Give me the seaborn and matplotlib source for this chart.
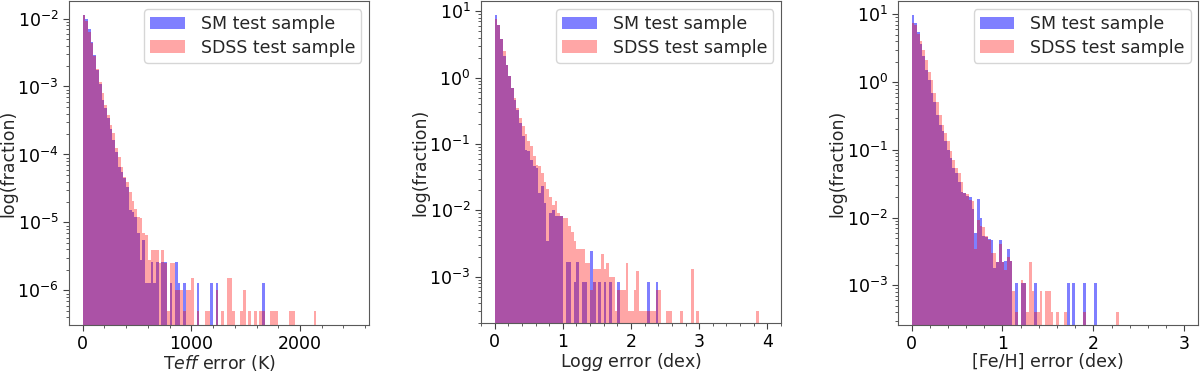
import numpy as np
import pandas as pd
import matplotlib
matplotlib.use("Agg")
import matplotlib.pyplot as plt
import seaborn as sns
from matplotlib.patches import Patch

# histogram range per panel (100 bins each)
n_bins = 100
teff_range = (0, 2500)
logg_range = (0, 4)
feh_range = (0, 3)

# normalised histogram heights, one value per bin
teff_sm = [1.12e-2, 1.0e-2, 6.9e-3, 4.5e-3, 2.9e-3, 1.74e-3, 1.1e-3, 6.3e-4, 4.8e-4, 3.4e-4,
           2.4e-4, 1.62e-4, 1.1e-4, 6.6e-5, 5.6e-5, 4.5e-5, 3.3e-5, 1.5e-5, 1.44e-5, 1.2e-5,
           6.9e-6, 2.8e-6, 5.5e-6, 1.3e-6, 1.3e-6, 2.6e-6, 1.3e-6, 2.6e-6, 0, 2.6e-6,
           2.6e-6, 0, 1.3e-6, 0, 2.6e-6, 1.3e-6, 0, 1.3e-6, 0, 0,
           0, 0, 1.3e-6, 0, 0, 0, 0, 1.3e-6, 0, 1.3e-6,
           0, 0, 0, 0, 0, 0, 0, 0, 0, 0,
           0, 0, 0, 0, 0, 0, 1.3e-6]
teff_sdss = [1.12e-2, 9.3e-3, 6.3e-3, 4.4e-3, 2.8e-3, 1.78e-3, 1.17e-3, 8.1e-4, 5.4e-4, 3.8e-4,
             2.7e-4, 2.04e-4, 1.23e-4, 9.3e-5, 6.6e-5, 4.7e-5, 4.0e-5, 2.8e-5, 2.1e-5, 1.6e-5,
             1.2e-5, 1.15e-5, 6.9e-6, 6.5e-6, 2.8e-6, 3.9e-6, 3.9e-6, 3.9e-6, 2.5e-6, 3.9e-6,
             2.5e-6, 4.9e-7, 2.5e-6, 2.5e-6, 1.0e-6, 1.0e-6, 1.0e-6, 4.9e-7, 1.0e-6, 1.0e-6,
             1.5e-6, 0, 4.9e-7, 0, 0, 4.9e-7, 4.9e-7, 0, 0, 1.0e-6,
             0, 4.9e-7, 0, 1.5e-6, 1.5e-6, 4.9e-7, 0, 0, 4.9e-7, 1.0e-6,
             0, 4.9e-7, 0, 4.9e-7, 0, 4.9e-7, 4.9e-7, 0, 0, 4.9e-7,
             4.9e-7, 4.9e-7, 0, 0, 0, 0, 4.9e-7, 4.9e-7, 0, 0,
             0, 0, 0, 0, 0, 4.9e-7]

logg_sm = [8.9, 6.3, 3.8, 2.1, 1.57, 1.05, 0.70, 0.46, 0.33, 0.21,
           0.13, 0.081, 0.078, 0.058, 0.046, 0.044, 0.018, 0.023, 0.013, 0.0034,
           0.0091, 0.010, 0.0081, 0.0081, 0.0081, 0, 1.64e-3, 1.64e-3, 0, 8.2e-4,
           1.64e-3, 0, 8.2e-4, 8.2e-4, 0, 2.46e-3, 8.2e-4, 0, 8.2e-4, 0,
           8.2e-4, 0, 8.2e-4, 0, 0, 8.2e-4, 0, 0, 0, 0,
           0, 0, 0, 0, 0, 0, 8.2e-4, 0, 0, 8.2e-4]
logg_sdss = [7.7, 6.3, 3.8, 2.5, 1.57, 1.05, 0.70, 0.49, 0.35, 0.25,
             0.186, 0.14, 0.11, 0.093, 0.065, 0.049, 0.046, 0.037, 0.027, 0.021,
             0.016, 0.012, 0.014, 0.0091, 0.0081, 0.0077, 0.0077, 0.0058, 0.0047, 0.0035,
             0.0026, 0.0026, 0.0026, 0.0016, 0.0016, 6.4e-4, 1.3e-3, 1.3e-3, 1.3e-3, 2.2e-3,
             1.3e-3, 1.6e-3, 1.0e-3, 1.0e-3, 3.1e-4, 6.4e-4, 6.4e-4, 6.4e-4, 1.6e-3, 3.1e-4,
             3.1e-4, 6.4e-4, 1.2e-3, 3.1e-4, 3.1e-4, 3.1e-4, 3.1e-4, 3.1e-4, 3.1e-4, 6.4e-4,
             6.4e-4, 0, 0, 3.1e-4, 3.1e-4, 0, 0, 0, 3.1e-4, 0,
             0, 0, 1.3e-3, 0, 3.1e-4, 0, 0, 0, 0, 0,
             0, 0, 0, 0, 0, 0, 0, 0, 0, 0,
             0, 0, 0, 0, 0, 0, 3.1e-4]

feh_sm = [9.7, 7.5, 5.5, 3.7, 2.4, 1.5, 1.07, 0.68, 0.51, 0.33,
          0.23, 0.19, 0.133, 0.10, 0.076, 0.054, 0.046, 0.034, 0.024, 0.023,
          0.021, 0.020, 0.0135, 0.0060, 0.0186, 0.0100, 0.0054, 0.0051, 0.0048, 0.0046,
          0.0018, 0.0022, 0.0046, 0.0022, 0.0023, 0.0035, 0.0023, 0, 1.1e-3, 0,
          1.1e-3, 1.1e-3, 0, 0, 0, 1.1e-3, 0, 0, 0, 0,
          0, 0, 0, 0, 0, 0, 0, 1.1e-3, 0, 1.1e-3,
          0, 0, 0, 1.1e-3, 0, 0, 0, 1.1e-3]
feh_sdss = [7.5, 6.9, 5.2, 4.1, 2.96, 2.1, 1.4, 1.07, 0.68, 0.51,
            0.33, 0.23, 0.176, 0.133, 0.095, 0.071, 0.054, 0.046, 0.034, 0.023,
            0.022, 0.018, 0.0175, 0.0035, 0.0093, 0.0074, 0.0072, 0.0054, 0.0046, 0.0030,
            0.0030, 0.0022, 0.0041, 0.0022, 0.0017, 0.0026, 0.0023, 8.2e-4, 4.1e-4, 0,
            1.2e-3, 1.1e-3, 4.1e-4, 2.2e-3, 8.2e-4, 4.1e-4, 4.1e-4, 8.2e-4, 0, 8.2e-4,
            8.2e-4, 4.1e-4, 0, 4.1e-4, 0, 0, 4.1e-4, 0, 0, 0,
            0, 0, 0, 4.1e-4, 0, 0, 0, 0, 0, 0,
            0, 0, 0, 0, 0, 4.1e-4]

xlabels = [r"T$eff$ error (K)", r"Log$g$ error (dex)", "[Fe/H] error (dex)"]

sns.set_style("ticks", {"axes.edgecolor": "0.35", "xtick.color": "0.25",
                        "ytick.color": "0.25"})
plt.rcParams["font.size"] = 12.5
plt.rcParams["xtick.major.size"] = 4
plt.rcParams["ytick.major.size"] = 4.5
plt.rcParams["xtick.minor.size"] = 2.5
plt.rcParams["ytick.minor.size"] = 2.5

fig = plt.figure(figsize=(12, 3.71), dpi=100)
positions = [[0.0575, 0.124, 0.25, 0.872],
             [0.4008, 0.129, 0.25, 0.867],
             [0.7486, 0.124, 0.25, 0.872]]
panels = [
    (teff_range, teff_sm, teff_sdss, (-125, 2635), (3.1e-7, 1.78e-2), 200),
    (logg_range, logg_sm, logg_sdss, (-0.2, 4.2), (2.0e-4, 14), 0.2),
    (feh_range, feh_sm, feh_sdss, (-0.146, 3.155), (2.6e-4, 15.5), 0.2),
]

for pos, (rng, sm, sdss, xlim, ylim, minor), xlab in zip(positions, panels, xlabels):
    ax = fig.add_axes(pos)
    edges = np.linspace(rng[0], rng[1], n_bins + 1)
    centers = (edges[:-1] + edges[1:]) / 2
    df_sm = pd.DataFrame({"err": centers[:len(sm)], "frac": sm})
    df_sdss = pd.DataFrame({"err": centers[:len(sdss)], "frac": sdss})
    sns.histplot(data=df_sm, x="err", weights="frac", bins=n_bins, binrange=rng,
                 color="blue", alpha=0.5, linewidth=0, edgecolor="none", ax=ax)
    sns.histplot(data=df_sdss, x="err", weights="frac", bins=n_bins, binrange=rng,
                 color="red", alpha=0.35, linewidth=0, edgecolor="none", ax=ax)
    ax.set_yscale("log")
    ax.set_xlim(*xlim)
    ax.set_ylim(*ylim)
    ax.xaxis.set_minor_locator(matplotlib.ticker.MultipleLocator(minor))
    ax.tick_params(labelsize=12.5, labelcolor="black", pad=3)
    ax.set_xlabel(xlab, fontsize=12.5, labelpad=0)
    ax.set_ylabel("log(fraction)", fontsize=12.5, labelpad=0)
    handles = [Patch(facecolor="blue", alpha=0.5, edgecolor="none"),
               Patch(facecolor="red", alpha=0.35, edgecolor="none")]
    ax.legend(handles, ["SM test sample", "SDSS test sample"], loc="upper right",
              fontsize=12.5, frameon=True, labelspacing=0.3, borderpad=0.35,
              handletextpad=0.9, borderaxespad=0.45)

fig.savefig("out.png", dpi=100)
